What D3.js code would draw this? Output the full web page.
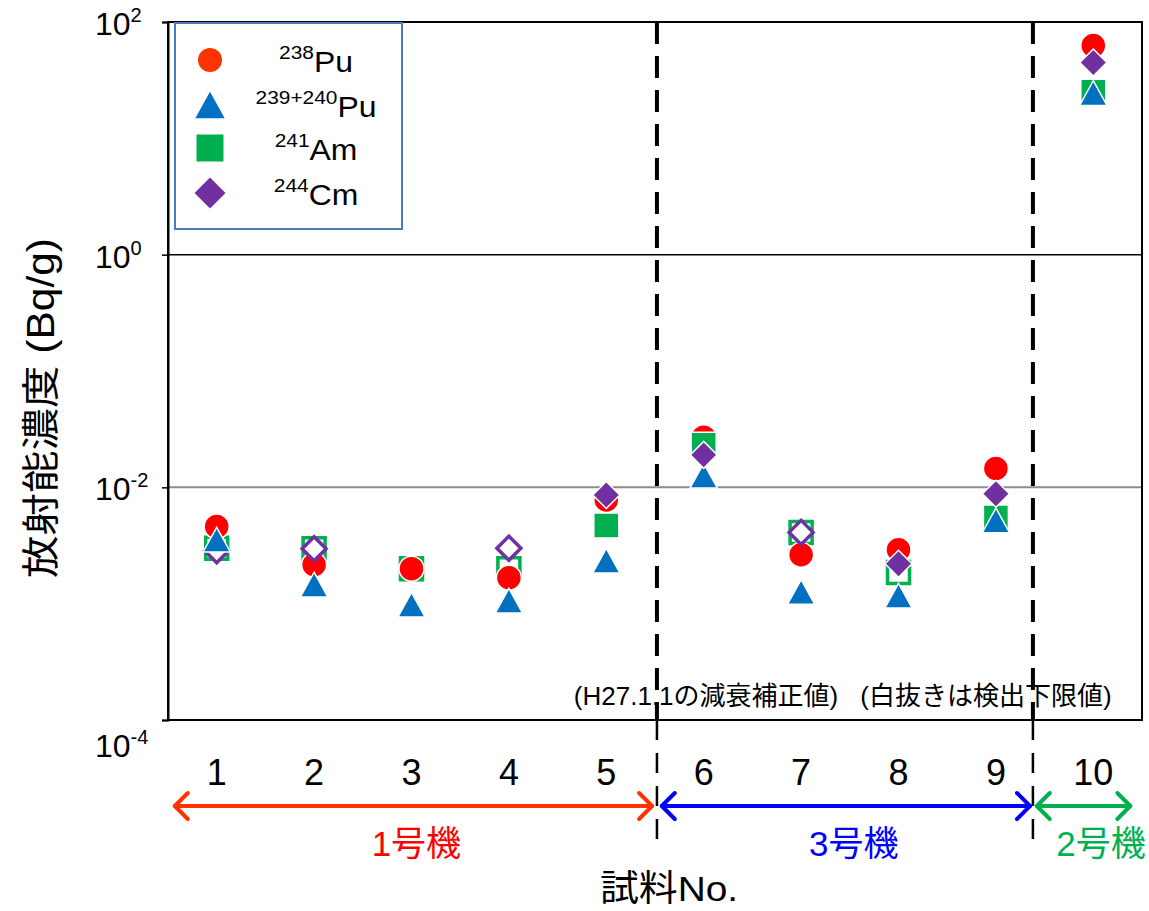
<!DOCTYPE html>
<html>
<head>
<meta charset="utf-8">
<script src="https://cdn.jsdelivr.net/npm/d3@7"></script>
<style>
  html, body { margin: 0; padding: 0; background: #fff; }
  svg { display: block; }
  text { font-family: "Liberation Sans", Arial, "Noto Sans CJK JP", sans-serif; }
</style>
</head>
<body>
<script>
// ---------------- data ----------------
const samples = ["1", "2", "3", "4", "5", "6", "7", "8", "9", "10"];
const pu238    = [0.0046, 0.00216, 0.0020, 0.00167, 0.0078, 0.027, 0.00263, 0.0029, 0.0145, 62.7];
const pu239240 = [0.00355, 0.00146, 0.00098, 0.00106, 0.00234, 0.0126, 0.00126, 0.00117, 0.0052, 24.5];
const am241    = [0.0030, 0.00297, 0.0020, 0.0020, 0.0047, 0.0232, 0.0041, 0.00185, 0.0055, 25.2];
const am241Open = [true, true, true, true, false, false, true, true, false, false];   // 白抜き = 検出下限値
const cm244    = [0.00285, 0.00297, null, 0.0030, 0.0086, 0.019, 0.0041, 0.0022, 0.0088, 44.8];
const cm244Open = [true, true, false, true, false, false, true, false, false, false];  // 白抜き = 検出下限値
const yTicks = [1e-4, 1e-2, 1, 1e2];
const yTickExp = ["-4", "-2", "0", "2"];
const unitNames = ["1号機", "3号機", "2号機"];
const unitFrom  = [0.07, 5.07, 8.92];   // in sample-band units
const unitTo    = [4.97, 8.85, 9.88];
const unitLabelAt = [2.55, 7.04, 9.58];
const dividers = [5.02, 8.88];
const notes = ["(H27.1.1の減衰補正値)", "(白抜きは検出下限値)"];
const legendNames = [["238", "Pu"], ["239+240", "Pu"], ["241", "Am"], ["244", "Cm"]];

// ---------------- layout ----------------
const W = 1149, H = 911;
const L = 168, R = 1142, T = 22, B = 720;

const svg = d3.select("body").append("svg").attr("width", W).attr("height", H);
svg.append("rect").attr("width", W).attr("height", H).attr("fill", "#fff");

const x = d3.scaleBand().domain(samples).range([L, R]).paddingInner(0).paddingOuter(0);
const bw = x.bandwidth();
const xc = s => x(s) + bw / 2;
const xu = u => L + u * bw;   // band-unit position
const y = d3.scaleLog().domain([1e-4, 1e2]).range([B, T]);

const colors = { pu238: "#FF0000", pu238Leg: "#FF3300", pu239: "#0070C0", am: "#00B050", cm: "#7030A0" };

// gridlines
svg.append("line").attr("x1", L).attr("x2", R).attr("y1", y(1e-2)).attr("y2", y(1e-2))
  .attr("stroke", "#8c8c8c").attr("stroke-width", 2);
svg.append("line").attr("x1", L).attr("x2", R).attr("y1", y(1)).attr("y2", y(1))
  .attr("stroke", "#000").attr("stroke-width", 1.5);

// frame
svg.append("rect").attr("x", L).attr("y", T).attr("width", R - L).attr("height", B - T)
  .attr("fill", "none").attr("stroke", "#000").attr("stroke-width", 2);

// y axis ticks
const yAxis = d3.axisLeft(y).tickValues(yTicks).tickSize(6).tickFormat("");
const gy = svg.append("g").attr("transform", `translate(${L},0)`).call(yAxis);
gy.select(".domain").attr("stroke", "#000").attr("stroke-width", 2);
gy.selectAll(".tick line").attr("stroke", "#000").attr("stroke-width", 1.5);

// y tick labels with superscripts
yTicks.forEach((v, i) => {
  const t = svg.append("text").attr("x", 95).attr("y", y(v) + (v === 1e-4 ? 37 : 13))
    .attr("fill", "#000").attr("text-anchor", "start");
  t.append("tspan").attr("font-size", 32).text("10");
  t.append("tspan").attr("font-size", 20).attr("dy", -13).text(yTickExp[i]);
});

// x tick labels
svg.selectAll(".xl").data(samples).enter().append("text")
  .attr("x", d => xc(d)).attr("y", 785).attr("text-anchor", "middle")
  .attr("font-size", 36).attr("fill", "#000").text(d => d);

// dividers
dividers.forEach(u => {
  svg.append("line").attr("x1", xu(u)).attr("x2", xu(u)).attr("y1", T).attr("y2", B)
    .attr("stroke", "#000").attr("stroke-width", 4).attr("stroke-dasharray", "22,12");
  svg.append("line").attr("x1", xu(u)).attr("x2", xu(u)).attr("y1", B).attr("y2", 842)
    .attr("stroke", "#000").attr("stroke-width", 2.5).attr("stroke-dasharray", "20,13");
});

// unit arrows
const unitArrowColors = ["#FF3300", "#0000FF", "#00B050"];
const unitTextColors = ["#FF0000", "#0000FF", "#00B050"];
const ay = 806, ah = 13;
unitNames.forEach((n, i) => {
  const x1 = xu(unitFrom[i]), x2 = xu(unitTo[i]);
  const g = svg.append("g").attr("stroke", unitArrowColors[i]).attr("stroke-width", 4)
    .attr("fill", "none").attr("stroke-linecap", "round").attr("stroke-linejoin", "round");
  g.append("line").attr("x1", x1).attr("x2", x2).attr("y1", ay).attr("y2", ay);
  g.append("path").attr("d", `M${x1 + ah},${ay - ah}L${x1},${ay}L${x1 + ah},${ay + ah}`);
  g.append("path").attr("d", `M${x2 - ah},${ay - ah}L${x2},${ay}L${x2 - ah},${ay + ah}`);
  svg.append("text").attr("x", xu(unitLabelAt[i])).attr("y", 856).attr("text-anchor", "middle")
    .attr("font-size", 35).attr("fill", unitTextColors[i]).text(n);
});

// notes
svg.append("text").attr("x", 706).attr("y", 705).attr("text-anchor", "middle")
  .attr("font-size", 26).attr("fill", "#000").text(notes[0]);
svg.append("text").attr("x", 986).attr("y", 705).attr("text-anchor", "middle")
  .attr("font-size", 26).attr("fill", "#000").text(notes[1]);

// axis titles
svg.append("text").attr("transform", "translate(669,901) scale(1.08,1)").attr("text-anchor", "middle")
  .attr("font-size", 36).attr("fill", "#000").text("試料No.");
svg.append("text").attr("transform", `translate(54,408) rotate(-90)`).attr("text-anchor", "middle")
  .attr("font-size", 38).attr("fill", "#000")
  .attr("textLength", 340).attr("lengthAdjust", "spacingAndGlyphs").text("放射能濃度 (Bq/g)");

// ---------------- marker shapes ----------------
const shape = {
  circle: s => { const r = s / 2; return `M${r},0A${r},${r} 0 1,1 ${-r},0A${r},${r} 0 1,1 ${r},0Z`; },
  triangle: s => { const h = s * 0.95, w = s * 1.05; return `M0,${-h / 2}L${w / 2},${h / 2}L${-w / 2},${h / 2}Z`; },
  square: s => { const a = s / 2; return `M${-a},${-a}H${a}V${a}H${-a}Z`; },
  diamond: s => { const a = s / 2; return `M0,${-a}L${a},0L0,${a}L${-a},0Z`; }
};

function drawSeries(vals, kind, color, size, filter, open) {
  const pts = samples.map((s, i) => ({ s, v: vals[i], i })).filter(d => d.v != null && filter(d.i));
  svg.append("g").selectAll("path").data(pts).enter().append("path")
    .attr("transform", d => `translate(${xc(d.s)},${y(d.v)})`)
    .attr("d", shape[kind](open ? size - 3 : size))
    .attr("fill", open ? "#fff" : color)
    .attr("stroke", open ? color : "#fff")
    .attr("stroke-width", open ? 3.5 : 1.5);
}
drawSeries(am241, "square", colors.am, 25, i => am241Open[i], true);
drawSeries(pu238, "circle", colors.pu238, 25, () => true, false);
drawSeries(am241, "square", colors.am, 25, i => !am241Open[i], false);
drawSeries(cm244, "diamond", colors.cm, 27, i => cm244Open[i], true);
drawSeries(pu239240, "triangle", colors.pu239, 26, () => true, false);
drawSeries(cm244, "diamond", colors.cm, 27, i => !cm244Open[i], false);

// ---------------- legend ----------------
svg.append("rect").attr("x", 175).attr("y", 23).attr("width", 227).attr("height", 206)
  .attr("fill", "#fff").attr("stroke", "#4A7EBB").attr("stroke-width", 2);
const legKinds = [["circle", colors.pu238Leg, 24], ["triangle", colors.pu239, 28], ["square", colors.am, 27], ["diamond", colors.cm, 31]];
const legY = [60, 105, 148, 193];
legendNames.forEach((nm, i) => {
  svg.append("path").attr("transform", `translate(210,${legY[i]})`)
    .attr("d", shape[legKinds[i][0]](legKinds[i][2])).attr("fill", legKinds[i][1]);
  const t = svg.append("text").attr("transform", `translate(316,${legY[i] + 12}) scale(1.1,1)`)
    .attr("text-anchor", "middle").attr("fill", "#000");
  t.append("tspan").attr("font-size", 19).attr("dy", -13).text(nm[0]);
  t.append("tspan").attr("font-size", 29).attr("dy", 13).text(nm[1]);
});
</script>
</body>
</html>
